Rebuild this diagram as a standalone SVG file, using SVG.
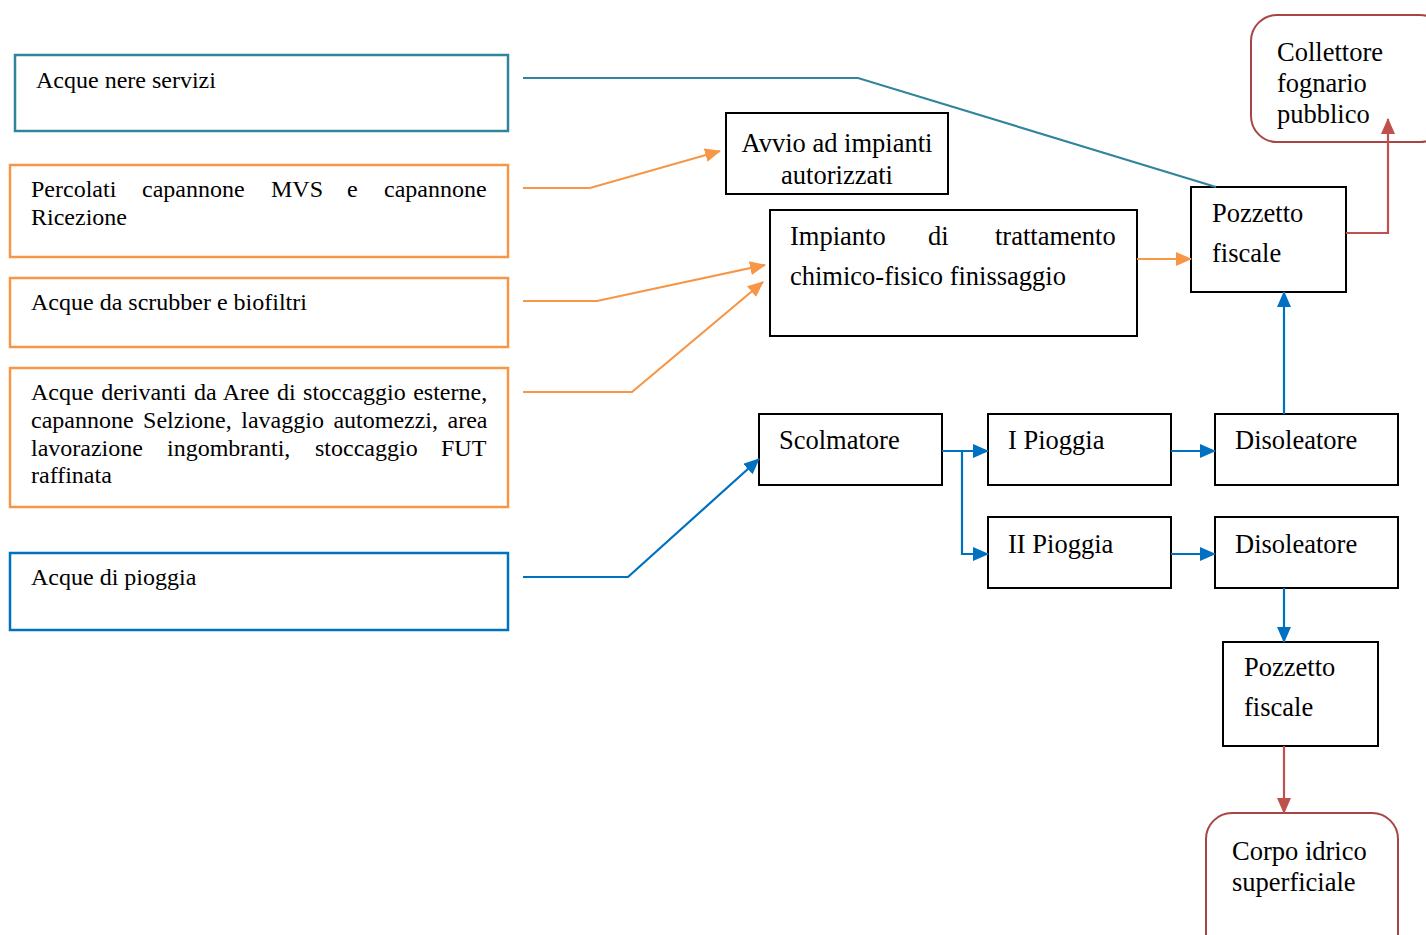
<svg xmlns="http://www.w3.org/2000/svg" width="1426" height="935" viewBox="0 0 1426 935">
<style>
text{font-family:"Liberation Serif","Times New Roman",serif;fill:#000}
.s{font-size:24px}
.l{font-size:26.5px}
.bx{fill:#fff;stroke:#000;stroke-width:2}
.teal{fill:#fff;stroke:#31849B;stroke-width:2.5}
.or{fill:#fff;stroke:#F79646;stroke-width:2.5}
.bl{fill:#fff;stroke:#0070C0;stroke-width:2.5}
.rd{fill:#fff;stroke:#A84542;stroke-width:2}
.c{fill:none;stroke-width:2.2}
.ct{stroke:#31849B}
.co{stroke:#F79646}
.cb{stroke:#0070C0}
.cr{stroke:#C0504D}
</style>
<defs>
<marker id="ao" markerUnits="userSpaceOnUse" markerWidth="16" markerHeight="14" refX="15" refY="7" orient="auto"><path d="M0,0L16,7L0,14z" fill="#F79646"/></marker>
<marker id="ab" markerUnits="userSpaceOnUse" markerWidth="16" markerHeight="14" refX="15" refY="7" orient="auto"><path d="M0,0L16,7L0,14z" fill="#0070C0"/></marker>
<marker id="ar" markerUnits="userSpaceOnUse" markerWidth="16" markerHeight="14" refX="15" refY="7" orient="auto"><path d="M0,0L16,7L0,14z" fill="#C0504D"/></marker>
</defs>
<g id="n-acque-nere"><rect class="teal" x="15" y="55" width="493" height="76"/><text class="s" x="36" y="88">Acque nere servizi</text></g>
<g id="n-percolati"><rect class="or" x="10" y="165" width="498" height="92"/>
<text class="s" y="197"><tspan x="31">Percolati</tspan><tspan x="142">capannone</tspan><tspan x="271">MVS</tspan><tspan x="347">e</tspan><tspan x="384">capannone</tspan></text>
<text class="s" x="31" y="225">Ricezione</text></g>
<g id="n-scrubber"><rect class="or" x="10" y="278" width="498" height="69"/><text class="s" x="31" y="310">Acque da scrubber e biofiltri</text></g>
<g id="n-aree"><rect class="or" x="10" y="368" width="498" height="139"/>
<text class="s" x="31" y="400" word-spacing="1.5">Acque derivanti da Aree di stoccaggio esterne,</text>
<text class="s" x="31" y="428" word-spacing="3.5">capannone Selzione, lavaggio automezzi, area</text>
<text class="s" y="456"><tspan x="31">lavorazione</tspan><tspan x="167">ingombranti,</tspan><tspan x="315">stoccaggio</tspan><tspan x="441">FUT</tspan></text>
<text class="s" x="31" y="483">raffinata</text></g>
<g id="n-pioggia"><rect class="bl" x="10" y="553" width="498" height="77"/><text class="s" x="31" y="585">Acque di pioggia</text></g>
<g id="n-avvio"><rect class="bx" x="726" y="113" width="222" height="81"/>
<text class="l" x="837" y="152" text-anchor="middle">Avvio ad impianti</text>
<text class="l" x="837" y="184" text-anchor="middle">autorizzati</text></g>
<g id="n-impianto"><rect class="bx" x="770" y="210" width="367" height="126"/>
<text class="l" y="245"><tspan x="790">Impianto</tspan><tspan x="928">di</tspan><tspan x="995">trattamento</tspan></text>
<text class="l" x="790" y="285">chimico-fisico finissaggio</text></g>
<g id="n-pozzetto1"><rect class="bx" x="1191" y="187" width="155" height="105"/>
<text class="l" x="1212" y="222">Pozzetto</text><text class="l" x="1212" y="262">fiscale</text></g>
<g id="n-collettore"><rect class="rd" x="1251" y="15" width="195" height="127" rx="26"/>
<text class="l" x="1277" y="61">Collettore</text><text class="l" x="1277" y="92">fognario</text><text class="l" x="1277" y="123">pubblico</text></g>
<g id="n-scolmatore"><rect class="bx" x="759" y="414" width="183" height="71"/><text class="l" x="779" y="449">Scolmatore</text></g>
<g id="n-ipioggia"><rect class="bx" x="988" y="414" width="183" height="71"/><text class="l" x="1008" y="449">I Pioggia</text></g>
<g id="n-disoleatore1"><rect class="bx" x="1215" y="414" width="183" height="71"/><text class="l" x="1235" y="449">Disoleatore</text></g>
<g id="n-iipioggia"><rect class="bx" x="988" y="517" width="183" height="71"/><text class="l" x="1008" y="553">II Pioggia</text></g>
<g id="n-disoleatore2"><rect class="bx" x="1215" y="517" width="183" height="71"/><text class="l" x="1235" y="553">Disoleatore</text></g>
<g id="n-pozzetto2"><rect class="bx" x="1223" y="642" width="155" height="104"/>
<text class="l" x="1244" y="676">Pozzetto</text><text class="l" x="1244" y="716">fiscale</text></g>
<g id="n-corpo"><rect class="rd" x="1206" y="813" width="192" height="150" rx="26"/>
<text class="l" x="1232" y="860">Corpo idrico</text><text class="l" x="1232" y="891">superficiale</text></g>
<g id="connectors">
<polyline class="c ct" points="523,78 858,78 1216,187"/>
<polyline class="c co" points="523,188 590,188 720,151" marker-end="url(#ao)"/>
<polyline class="c co" points="523,301 597,301 765,265" marker-end="url(#ao)"/>
<polyline class="c co" points="523,392 632,392 763,282" marker-end="url(#ao)"/>
<polyline class="c co" points="1137,259 1191,259" marker-end="url(#ao)"/>
<polyline class="c cb" points="523,577 628,577 759,459" marker-end="url(#ab)"/>
<polyline class="c cb" points="942,451 988,451" marker-end="url(#ab)"/>
<polyline class="c cb" points="962,451 962,554 988,554" marker-end="url(#ab)"/>
<polyline class="c cb" points="1171,451 1215,451" marker-end="url(#ab)"/>
<polyline class="c cb" points="1171,554 1215,554" marker-end="url(#ab)"/>
<polyline class="c cb" points="1284,414 1284,292" marker-end="url(#ab)"/>
<polyline class="c cb" points="1284,588 1284,642" marker-end="url(#ab)"/>
<polyline class="c cr" points="1346,233 1388,233 1388,119" marker-end="url(#ar)"/>
<polyline class="c cr" points="1284,746 1284,813" marker-end="url(#ar)"/>
</g>
</svg>
